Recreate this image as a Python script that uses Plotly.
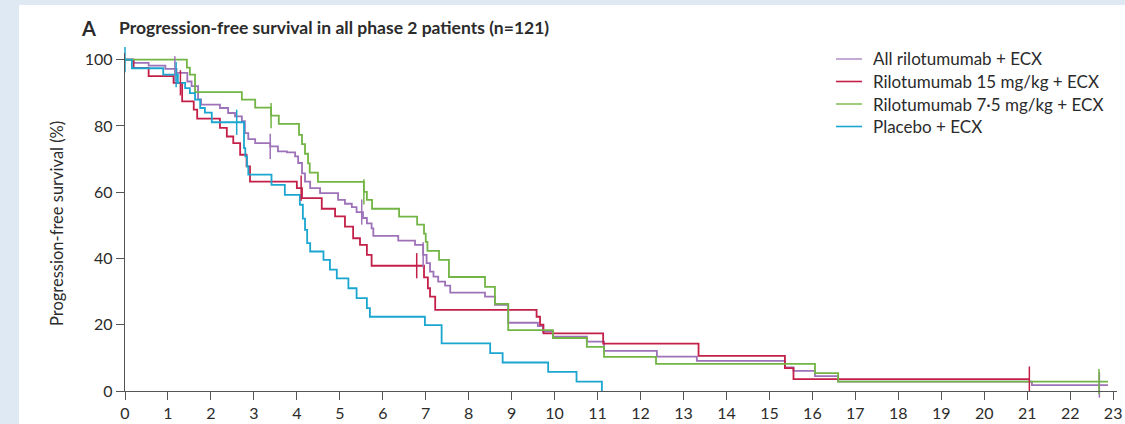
import numpy as np
import plotly.graph_objects as go

# ---------------- data (months, % progression-free) ----------------
series_names = ["All rilotumumab + ECX", "Rilotumumab 15 mg/kg + ECX",
                "Rilotumumab 7·5 mg/kg + ECX", "Placebo + ECX"]

purple_t = [0, 0.20, 0.55, 0.94, 1.20, 1.45, 1.55, 1.70, 1.77, 2.21, 2.40, 2.56, 2.72, 2.79, 2.87,
            3.03, 3.38, 3.56, 3.77, 3.96, 4.03, 4.12, 4.19, 4.31, 4.54, 4.96, 5.12, 5.28, 5.39, 5.54,
            5.63, 5.74, 5.78, 6.36, 6.75, 6.94, 7.02, 7.10, 7.18, 7.29, 7.45, 7.57, 8.38, 8.61, 8.92,
            9.61, 9.73, 9.96, 10.75, 11.15, 12.38, 13.31, 15.36, 15.56, 16.06, 16.60, 21.11, 22.88]
purple_s = [100, 99.0, 98.2, 97.2, 96.0, 93.4, 92.0, 88.0, 86.4, 85.4, 83.9, 82.9, 81.4, 77.8, 76.0,
            74.8, 73.8, 72.3, 72.0, 70.8, 68.8, 65.7, 63.2, 61.2, 59.7, 57.7, 56.5, 55.5, 54.0, 52.2,
            50.6, 49.1, 46.8, 45.4, 44.1, 41.1, 38.6, 36.0, 34.5, 33.0, 31.8, 29.7, 28.5, 26.0, 20.6,
            19.6, 17.9, 16.4, 14.9, 12.1, 10.4, 9.1, 7.1, 6.1, 4.5, 2.8, 1.8, 1.8]
purple_cens = [1.16, 3.38, 5.51, 6.94, 22.68]

red_t = [0, 0.20, 0.55, 1.13, 1.33, 1.60, 1.68, 2.21, 2.37, 2.52, 2.68, 2.83, 2.91, 4.00, 4.12,
         4.58, 4.89, 5.12, 5.31, 5.47, 5.63, 5.74, 6.96, 7.05, 7.10, 7.22, 9.58, 9.66, 9.74, 11.13,
         13.35, 15.36, 15.56, 21.05]
red_s = [100, 97.5, 95.0, 93.0, 87.4, 84.9, 82.2, 79.4, 76.8, 74.8, 71.3, 67.8, 63.2, 61.2, 58.2,
         55.0, 52.7, 49.6, 46.1, 44.1, 41.1, 37.8, 34.3, 31.0, 28.5, 24.5, 22.4, 20.0, 17.4, 14.3,
         10.6, 6.9, 3.6, 3.6]
red_cens = [1.29, 4.10, 6.79, 21.05]

green_t = [0, 1.44, 1.51, 1.63, 2.72, 3.03, 3.40, 3.58, 4.05, 4.12, 4.19, 4.26, 4.30, 4.49, 5.56,
           5.63, 5.75, 6.38, 6.80, 6.96, 7.00, 7.04, 7.31, 7.54, 8.38, 8.61, 8.92, 9.96, 10.75, 11.15,
           12.36, 16.06, 16.60, 22.88]
green_s = [100, 97.6, 95.5, 90.2, 87.9, 85.5, 83.1, 80.6, 77.3, 74.5, 71.6, 68.7, 65.9, 63.1, 60.1,
           57.7, 55.0, 52.6, 50.2, 47.5, 45.0, 42.3, 39.6, 34.4, 31.4, 26.3, 18.4, 16.0, 13.3, 10.3,
           8.2, 5.4, 2.8, 2.8]
green_cens = [3.40, 5.56, 22.67]

blue_t = [0, 0.16, 0.89, 1.23, 1.40, 1.51, 1.63, 1.75, 1.86, 2.02, 2.77, 2.80, 2.84, 2.87, 3.41,
          3.72, 4.07, 4.14, 4.19, 4.24, 4.31, 4.62, 4.77, 4.93, 5.20, 5.39, 5.63, 5.70, 6.98, 7.37,
          8.50, 8.79, 9.85, 10.51, 11.10]
blue_s = [100, 97.4, 95.5, 93.0, 91.4, 89.9, 87.9, 85.4, 84.0, 81.1, 73.3, 70.8, 67.8, 65.3, 62.2,
          59.2, 56.2, 52.0, 48.6, 44.6, 42.1, 39.6, 36.6, 34.0, 31.0, 28.0, 25.0, 22.4, 19.9, 14.4,
          11.4, 8.6, 5.8, 2.8, 0]
blue_cens = [0, 1.19, 2.60]

x_ticks = list(range(0, 24))
y_ticks = [0, 20, 40, 60, 80, 100]

colors = ["#9d72b8", "#c41f48", "#72b544", "#1ba6cf"]
legend_colors = ["#b596cb", "#c41f48", "#86c25c", "#1ba6cf"]

FONT = "Lato"
TXT = "#2b2b2b"
AX = "#555555"
BG = "#dfe9f4"

fig = go.Figure()
all_series = [(purple_t, purple_s, purple_cens), (red_t, red_s, red_cens),
              (green_t, green_s, green_cens), (blue_t, blue_s, blue_cens)]

for i, (t, s, c) in enumerate(all_series):
    fig.add_trace(go.Scatter(x=t, y=s, mode="lines", line=dict(color=colors[i], width=1.8, shape="hv"),
                             name=series_names[i], showlegend=False, cliponaxis=False,
                             hoverinfo="skip"))
for i, (t, s, c) in enumerate(all_series):
    ta = np.array(t)
    sa = np.array(s)
    idx = np.clip(np.searchsorted(ta, np.array(c), side="right") - 1, 0, len(sa) - 1)
    fig.add_trace(go.Scatter(x=c, y=sa[idx], mode="markers", showlegend=False,
                             marker=dict(symbol="line-ns", size=18,
                                         line=dict(color=colors[i], width=1.5)),
                             cliponaxis=False, hoverinfo="skip"))

L, R, T, B = 125, 8, 53, 33
W, H = 1125, 424
pw, ph = W - L - R, H - T - B

def px_x(p):
    return (p - L) / pw

def px_y(p):
    return (H - B - p) / ph

shapes = [dict(type="rect", xref="paper", yref="paper", layer="below",
               x0=px_x(19), x1=px_x(1140), y0=px_y(440), y1=px_y(5),
               fillcolor="white", line=dict(width=0))]
annotations = [
    dict(text="<b>A</b>", xref="paper", yref="paper", x=px_x(79), y=px_y(28),
         xanchor="left", yanchor="middle", showarrow=False,
         font=dict(size=20, family=FONT, color=TXT)),
    dict(text="<b>Progression-free survival in all phase 2 patients (n=121)</b>",
         xref="paper", yref="paper", x=px_x(117), y=px_y(28), xanchor="left",
         yanchor="middle", showarrow=False, font=dict(size=17.5, family=FONT, color=TXT)),
    dict(text="Progression-free survival (%)", xref="paper", yref="paper",
         x=px_x(57), y=px_y(224), textangle=-90, xanchor="center", yanchor="middle",
         showarrow=False, font=dict(size=16.5, family=FONT, color=TXT)),
]

# legend (drawn as key lines + labels)
legend_rows = [59, 81.5, 104, 126.5]
for i, name in enumerate(series_names):
    yy = px_y(legend_rows[i])
    shapes.append(dict(type="line", xref="paper", yref="paper", x0=px_x(836), x1=px_x(862),
                       y0=yy, y1=yy, line=dict(color=legend_colors[i], width=1.6)))
    annotations.append(dict(text=name, xref="paper", yref="paper", x=px_x(871), y=yy,
                            xanchor="left", yanchor="middle", showarrow=False,
                            font=dict(size=17, family=FONT, color=TXT)))

fig.update_layout(
    width=W, height=H,
    margin=dict(l=L, r=R, t=T, b=B, pad=0, autoexpand=False),
    paper_bgcolor=BG,
    plot_bgcolor="white",
    font=dict(family=FONT, color=TXT, size=16),
    showlegend=False,
    xaxis=dict(range=[0, 23.09], tickvals=x_ticks, ticktext=[str(v) for v in x_ticks],
               showline=True, linecolor=AX, linewidth=1.3, ticks="outside", ticklen=8,
               tickwidth=1.3, tickcolor=AX, showgrid=False, zeroline=False, automargin=False,
               tickfont=dict(size=16, family=FONT, color=TXT)),
    yaxis=dict(range=[0, 102], tickvals=y_ticks, ticktext=[str(v) for v in y_ticks],
               showline=True, linecolor=AX, linewidth=1.3, ticks="outside", ticklen=8,
               tickwidth=1.3, tickcolor=AX, showgrid=False, zeroline=False, automargin=False,
               tickfont=dict(size=16, family=FONT, color=TXT)),
    shapes=shapes,
    annotations=annotations,
)

fig.write_html("out.html", config={"displayModeBar": False},
               post_script="document.body.style.margin='0';document.body.style.background='%s';" % BG)
